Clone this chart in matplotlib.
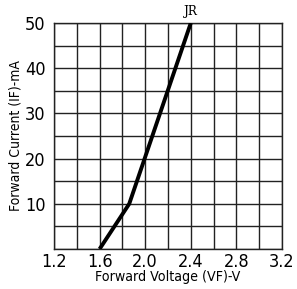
import matplotlib
matplotlib.use("Agg")
import matplotlib.pyplot as plt
import numpy as np

vf = [1.6, 1.86, 2.4]
i_f = [0, 10, 50]
xticks = [1.2, 1.6, 2.0, 2.4, 2.8, 3.2]
xticklabels = ["1.2", "1.6", "2.0", "2.4", "2.8", "3.2"]
yticks = [10, 20, 30, 40, 50]
yticklabels = ["10", "20", "30", "40", "50"]

plt.rcParams['font.family'] = ['DejaVu Sans']
plt.rcParams['font.stretch'] = 'condensed'

fig = plt.figure(figsize=(2.97, 2.89), dpi=100)
ax = fig.add_axes([54/297, 1-249/289, 228/297, 226/289])
ax.set_xlim(1.2, 3.2)
ax.set_ylim(0, 50)

for x in np.arange(1.2, 3.21, 0.2):
    ax.axvline(x, color='#222222', lw=1.0, zorder=1)
for y in np.arange(0, 50.1, 5):
    ax.axhline(y, color='#222222', lw=1.0, zorder=1)

ax.plot(vf, i_f, color='black', lw=2.8, solid_capstyle='butt', zorder=3)

ax.set_xticks(xticks)
ax.set_xticklabels(xticklabels, fontsize=13, stretch='condensed')
ax.set_yticks(yticks)
ax.set_yticklabels(yticklabels, fontsize=13, stretch='condensed')
ax.tick_params(axis='y', length=0, pad=6)
ax.tick_params(axis='x', length=0, pad=3)
for s in ax.spines.values():
    s.set_linewidth(1.0)
    s.set_color('#222222')

ax.set_xlabel("Forward Voltage (VF)-V", fontsize=10.2, labelpad=-1, stretch='condensed')
ax.set_ylabel("Forward Current (IF)-mA", fontsize=10, labelpad=2, stretch='condensed')
ax.text(2.4, 51.2, "JR", ha='center', va='bottom', fontsize=9.5,
        family='DejaVu Serif')

fig.savefig("out.png", dpi=100)
